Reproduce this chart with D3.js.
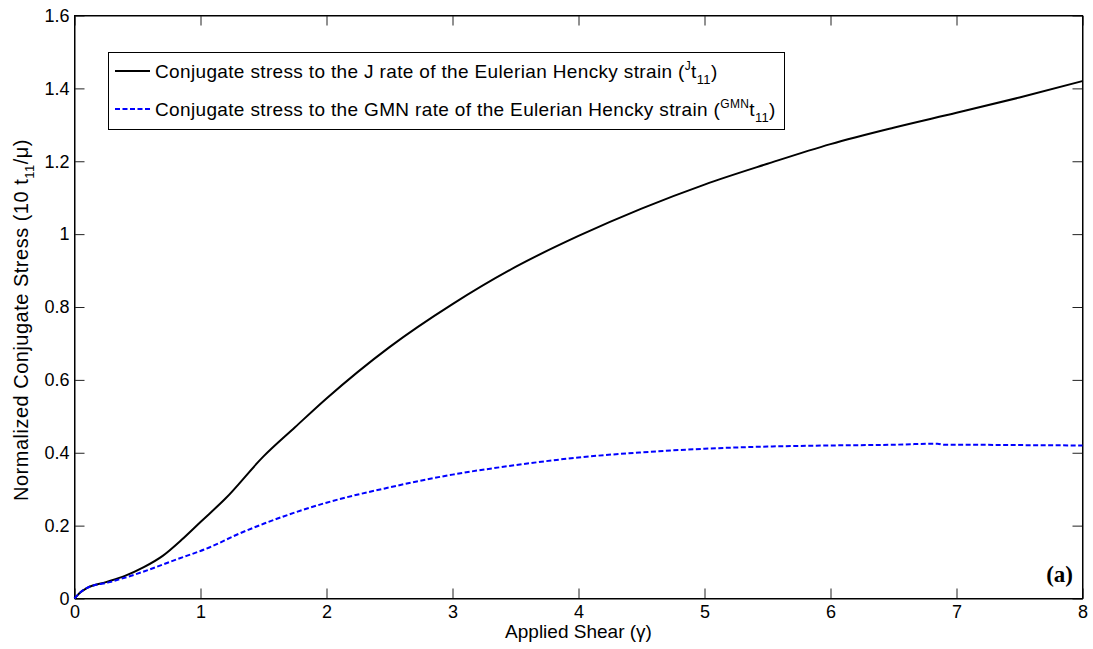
<!DOCTYPE html>
<html>
<head lang="en">
  <title>Conjugate stress</title>
  <script src="https://d3js.org/d3.v7.min.js" charset="utf-8"></script>
  <style>
    body { margin: 0; background: #fff; }
  </style>
</head>
<body>
  <script>
    // data
    var shear = [0, 0.05, 0.1, 0.25, 0.4, 0.55, 0.7, 0.85, 1, 1.2, 1.5, 1.75, 2, 2.5, 3, 3.5, 4, 4.5, 5, 5.5, 6, 6.5, 7, 7.5, 8];
    var stressJ = [0, 0.018, 0.029, 0.045, 0.062, 0.086, 0.117, 0.161, 0.21, 0.275, 0.39, 0.47, 0.549, 0.69, 0.808, 0.91, 0.995, 1.07, 1.136, 1.193, 1.247, 1.292, 1.333, 1.375, 1.42];
    var gmnShear = [0, 0.05, 0.1, 0.28, 0.55, 0.8, 1.07, 1.3, 1.5, 2, 2.5, 3, 3.5, 4, 4.5, 5, 5.5, 6, 6.5, 6.85, 6.9, 7, 7.5, 8];
    var stressGMN = [0, 0.018, 0.029, 0.045, 0.074, 0.106, 0.14, 0.177, 0.205, 0.263, 0.305, 0.34, 0.366, 0.387, 0.401, 0.411, 0.417, 0.42, 0.422, 0.425, 0.422, 0.422, 0.421, 0.42];
    var xTicks = [0, 1, 2, 3, 4, 5, 6, 7, 8];
    var yTicks = [0, 0.2, 0.4, 0.6, 0.8, 1, 1.2, 1.4, 1.6];

    var width = 1093, height = 649;
    var mLeft = 74.5, mRight = 1082.5, mTop = 15.5, mBottom = 598.5;
    var sans = "'Liberation Sans', Arial, Helvetica, sans-serif";

    var x = d3.scaleLinear().domain([0, 8]).range([mLeft, mRight]);
    var y = d3.scaleLinear().domain([0, 1.6]).range([mBottom, mTop]);

    var svg = d3.select("body").append("svg")
      .attr("width", width)
      .attr("height", height)
      .style("font-family", sans);

    // ticks inside on all four sides
    var tl = 10;
    svg.append("g").attr("transform", "translate(0," + mBottom + ")")
      .call(d3.axisBottom(x).tickValues(xTicks).tickSizeInner(-tl).tickSizeOuter(0).tickPadding(7).tickFormat(d3.format("~g")));
    svg.append("g").attr("transform", "translate(0," + mTop + ")")
      .call(d3.axisTop(x).tickValues(xTicks).tickSizeInner(-tl).tickSizeOuter(0).tickFormat(""));
    svg.append("g").attr("transform", "translate(" + mLeft + ",0)")
      .call(d3.axisLeft(y).tickValues(yTicks).tickSizeInner(-tl).tickSizeOuter(0).tickPadding(5).tickFormat(d3.format("~g")));
    svg.append("g").attr("transform", "translate(" + mRight + ",0)")
      .call(d3.axisRight(y).tickValues(yTicks).tickSizeInner(-tl).tickSizeOuter(0).tickFormat(""));

    svg.selectAll(".domain").attr("stroke", "#000");
    svg.selectAll(".tick line").attr("stroke", "#222");
    svg.selectAll(".tick text").attr("fill", "#000")
      .style("font-size", "18px").style("font-family", sans);

    svg.append("rect")
      .attr("x", mLeft).attr("y", mTop)
      .attr("width", mRight - mLeft).attr("height", mBottom - mTop)
      .attr("fill", "none").attr("stroke", "#000");

    var line = d3.line().curve(d3.curveMonotoneX);

    svg.append("path")
      .attr("d", line(shear.map(function(d, i) { return [x(d), y(stressJ[i])]; })))
      .attr("fill", "none").attr("stroke", "#000").attr("stroke-width", 2);

    svg.append("path")
      .attr("d", line(gmnShear.map(function(d, i) { return [x(d), y(stressGMN[i])]; })))
      .attr("fill", "none").attr("stroke", "#0000ff").attr("stroke-width", 2)
      .attr("stroke-dasharray", "5,2.5");

    // axis labels
    svg.append("text")
      .attr("x", (mLeft + mRight) / 2).attr("y", 638)
      .attr("text-anchor", "middle").style("font-size", "19px")
      .text("Applied Shear (\u03b3)");

    var yl = svg.append("text")
      .attr("transform", "translate(28,320) rotate(-90)")
      .attr("text-anchor", "middle")
      .style("font-size", "20px").style("letter-spacing", "0.5px");
    yl.append("tspan").text("Normalized Conjugate Stress (10 t");
    yl.append("tspan").attr("dy", 6).style("font-size", "13px").text("11");
    yl.append("tspan").attr("dy", -6).text("/\u03bc)");

    // panel tag
    svg.append("text")
      .attr("x", 1073).attr("y", 582)
      .attr("text-anchor", "end")
      .style("font-size", "23px").style("font-weight", "bold")
      .style("font-family", "'Liberation Serif', 'Times New Roman', serif")
      .text("(a)");

    // legend
    var lg = svg.append("g");
    lg.append("rect")
      .attr("x", 108.5).attr("y", 52.5).attr("width", 676).attr("height", 77)
      .attr("fill", "#fff").attr("stroke", "#000");

    var entries = [
      { sup: "J", color: "#000", dash: null, name: "J" },
      { sup: "GMN", color: "#0000ff", dash: "5,2.5", name: "GMN" }
    ];
    entries.forEach(function(e, i) {
      var yy = 71 + i * 38;
      lg.append("line")
        .attr("x1", 115).attr("x2", 150).attr("y1", yy).attr("y2", yy)
        .attr("stroke", e.color).attr("stroke-width", 2)
        .attr("stroke-dasharray", e.dash);
      var t = lg.append("text").attr("x", 155).attr("y", yy + 7)
        .style("font-size", "19px").style("letter-spacing", "0.35px");
      t.append("tspan").text("Conjugate stress to the " + e.name + " rate of the Eulerian Hencky strain (");
      t.append("tspan").attr("dy", -8).style("font-size", "12px").text(e.sup);
      t.append("tspan").attr("dy", 8).text("t");
      t.append("tspan").attr("dy", 6).style("font-size", "13px").text("11");
      t.append("tspan").attr("dy", -6).text(")");
    });
  </script>
</body>
</html>
